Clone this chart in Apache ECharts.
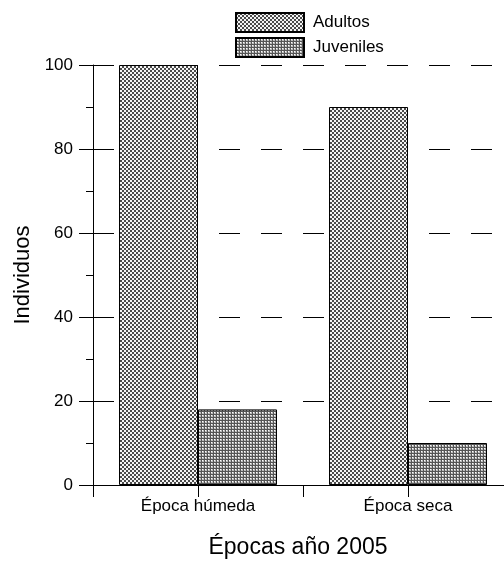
<!DOCTYPE html>
<html>
<head>
<meta charset="utf-8">
<script src="https://cdn.jsdelivr.net/npm/echarts@6/dist/echarts.min.js"></script>
<style>
html,body{margin:0;padding:0;background:#fff;}
#chart{width:504px;height:561px;}
</style>
</head>
<body>
<div id="chart"></div>
<script>
const categories = ['Época húmeda', 'Época seca'];
const seriesNames = ['Adultos', 'Juveniles'];
const adultos = [100, 90];
const juveniles = [18, 10];
const yTicks = [0, 20, 40, 60, 80, 100];

function makePattern(kind) {
  const c = document.createElement('canvas');
  const ctx = c.getContext('2d');
  if (kind === 'check') {
    c.width = 4; c.height = 4;
    ctx.fillStyle = '#f4f4f4'; ctx.fillRect(0, 0, 4, 4);
    ctx.fillStyle = '#4a4a4a';
    ctx.fillRect(0, 0, 2, 2); ctx.fillRect(2, 2, 2, 2);
  } else {
    c.width = 3; c.height = 3;
    ctx.fillStyle = '#bdbdbd'; ctx.fillRect(0, 0, 3, 3);
    ctx.fillStyle = '#555555';
    ctx.fillRect(0, 0, 3, 1); ctx.fillRect(0, 0, 1, 3);
    ctx.fillStyle = '#ffffff'; ctx.fillRect(1, 1, 1, 1);
  }
  return { image: c, repeat: 'repeat' };
}

const chart = echarts.init(document.getElementById('chart'), null, { renderer: 'canvas' });
const font = 'Arial, "Liberation Sans", Helvetica, sans-serif';
chart.setOption({
  animation: false,
  textStyle: { fontFamily: font, color: '#000' },
  legend: {
    orient: 'vertical',
    left: 230, top: 7,
    itemWidth: 68, itemHeight: 19, itemGap: 4,
    icon: 'rect',
    textStyle: { fontSize: 17, color: '#000', fontFamily: font, padding: [0, 0, 0, 4] },
    data: seriesNames
  },
  grid: { left: 93, top: 65, width: 420, height: 420, containLabel: false, outerBoundsMode: 'none' },
  xAxis: {
    type: 'category',
    data: categories,
    boundaryGap: true,
    name: 'Épocas año 2005',
    nameLocation: 'middle',
    nameGap: 51,
    nameTextStyle: { fontSize: 23, color: '#000', fontFamily: font, padding: [0, 10, 0, 0] },
    axisLine: { lineStyle: { color: '#000', width: 1 } },
    axisTick: { show: true, length: 12, lineStyle: { color: '#000' } },
    axisLabel: { fontSize: 17, color: '#000', margin: 13, fontFamily: font },
    splitLine: { show: false }
  },
  yAxis: {
    type: 'value',
    min: 0, max: 100, interval: 20,
    name: 'Individuos',
    nameLocation: 'middle',
    nameGap: 58,
    nameTextStyle: { fontSize: 22, color: '#000', fontFamily: font },
    axisLine: { show: true, lineStyle: { color: '#000', width: 1 } },
    axisTick: { show: true, length: 14, lineStyle: { color: '#000' } },
    minorTick: { show: true, splitNumber: 2, length: 7, lineStyle: { color: '#000' } },
    axisLabel: { fontSize: 17, color: '#000', margin: 20, fontFamily: font,
      formatter: v => (yTicks.indexOf(v) >= 0 ? String(v) : '') },
    splitLine: { show: true, lineStyle: { color: '#000', width: 1, type: [21, 21] } }
  },
  series: [{
    name: seriesNames[0], type: 'bar', data: adultos,
    barWidth: 79, barGap: '0%',
    itemStyle: { color: makePattern('check'), borderColor: '#000', borderWidth: 1 }
  }, {
    name: seriesNames[1], type: 'bar', data: juveniles,
    barWidth: 79, barGap: '0%',
    itemStyle: { color: makePattern('dots'), borderColor: '#000', borderWidth: 1 }
  }, {
    // tick marks at each category centre, placed through the axis scale
    type: 'custom',
    silent: true,
    clip: false,
    z: 10,
    data: categories.map(c => [c, 0]),
    encode: { x: 0, y: 1 },
    renderItem: function (params, api) {
      const p = api.coord([api.value(0), 0]);
      const x = Math.round(p[0]) + 0.5;
      return {
        type: 'line',
        shape: { x1: x, y1: p[1], x2: x, y2: p[1] + 12 },
        style: { stroke: '#000', lineWidth: 1 }
      };
    }
  }]
});
</script>
</body>
</html>
